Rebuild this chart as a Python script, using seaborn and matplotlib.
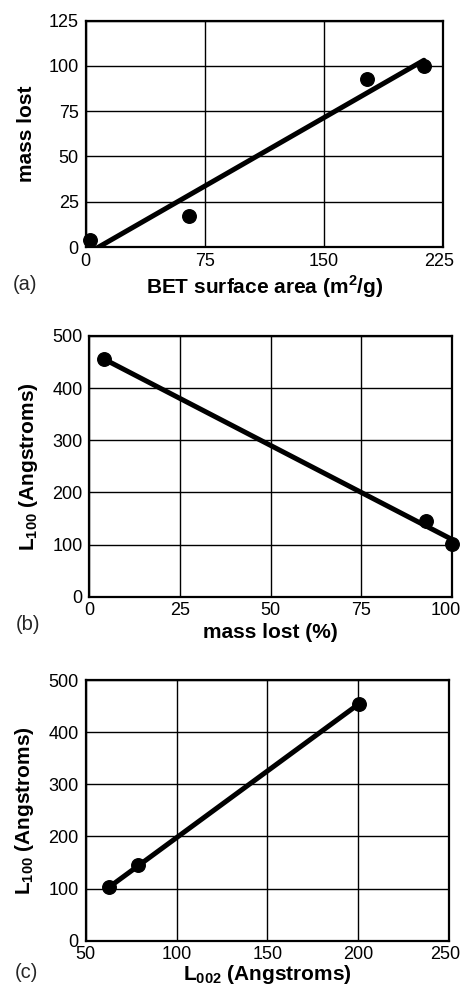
import numpy as np
import pandas as pd
import matplotlib
matplotlib.use("Agg")
import matplotlib.pyplot as plt
import matplotlib.transforms as mtransforms
import seaborn as sns

# data
bet_area = [2.7, 64.8, 177, 213]
mass_lost_a = [4, 17, 93, 100]

mass_lost_b = [4, 93, 100]
l100_b = [455, 145, 101]

l002_c = [63, 79, 200.6]
l100_c = [102, 145, 455]

sns.set_theme(style="whitegrid")
plt.rcParams['font.family'] = ['Liberation Sans', 'DejaVu Sans']
plt.rcParams['mathtext.fontset'] = 'custom'
plt.rcParams['mathtext.rm'] = 'Liberation Sans'
plt.rcParams['mathtext.bf'] = 'Liberation Sans:bold'

fig = plt.figure(figsize=(4.61, 9.88), dpi=100)
ax_a = fig.add_axes([0.186, 0.750, 0.775, 0.229])
ax_b = fig.add_axes([0.194, 0.396, 0.786, 0.264])
ax_c = fig.add_axes([0.186, 0.048, 0.788, 0.2635])

def draw(ax, x, y, xlim, ylim, xticks, yticks, xlabel, ylabel, last_shift, xpad=3):
    df = pd.DataFrame({'x': x, 'y': y})
    sns.regplot(data=df, x='x', y='y', ax=ax, ci=None, color='black',
                scatter_kws=dict(s=95, alpha=1, zorder=4, clip_on=False),
                line_kws=dict(lw=3.6, zorder=3))
    ax.set_xlim(*xlim)
    ax.set_ylim(*ylim)
    ax.set_xticks(xticks)
    ax.set_yticks(yticks)
    ax.grid(True, color='black', lw=1)
    ax.set_facecolor('white')
    for s in ax.spines.values():
        s.set_color('black')
        s.set_linewidth(1.6)
        s.set_visible(True)
    ax.tick_params(length=0, labelsize=13, colors='black')
    ax.tick_params(axis='y', pad=5)
    ax.tick_params(axis='x', pad=4)
    ax.set_xlabel(xlabel, fontsize=15, fontweight='bold', color='black', labelpad=xpad)
    ax.set_ylabel(ylabel, fontsize=15, fontweight='bold', color='black', labelpad=9)
    # nudge the last x tick label left so it stays inside the figure
    lab = ax.get_xticklabels()[-1]
    lab.set_transform(lab.get_transform() + mtransforms.ScaledTranslation(
        -last_shift / 100, 0, fig.dpi_scale_trans))

draw(ax_a, bet_area, mass_lost_a, (0, 225), (0, 125), [0, 75, 150, 225],
     [0, 25, 50, 75, 100, 125], r'BET surface area (m$^{\mathbf{2}}$/g)', 'mass lost', 4)
draw(ax_b, mass_lost_b, l100_b, (0, 100), (0, 500), [0, 25, 50, 75, 100],
     [0, 100, 200, 300, 400, 500], 'mass lost (%)', r'L$_{\mathbf{100}}$ (Angstroms)', 6)
draw(ax_c, l002_c, l100_c, (50, 250), (0, 500), [50, 100, 150, 200, 250],
     [0, 100, 200, 300, 400, 500], r'L$_{\mathbf{002}}$ (Angstroms)', r'L$_{\mathbf{100}}$ (Angstroms)', 4,
     xpad=0)

fig.text(13 / 461, 1 - 285 / 988, '(a)', fontsize=14.5, va='center', ha='left')
fig.text(16 / 461, 1 - 625 / 988, '(b)', fontsize=14.5, va='center', ha='left')
fig.text(15 / 461, 1 - 972 / 988, '(c)', fontsize=14.5, va='center', ha='left')

fig.savefig('out.png', dpi=100)
